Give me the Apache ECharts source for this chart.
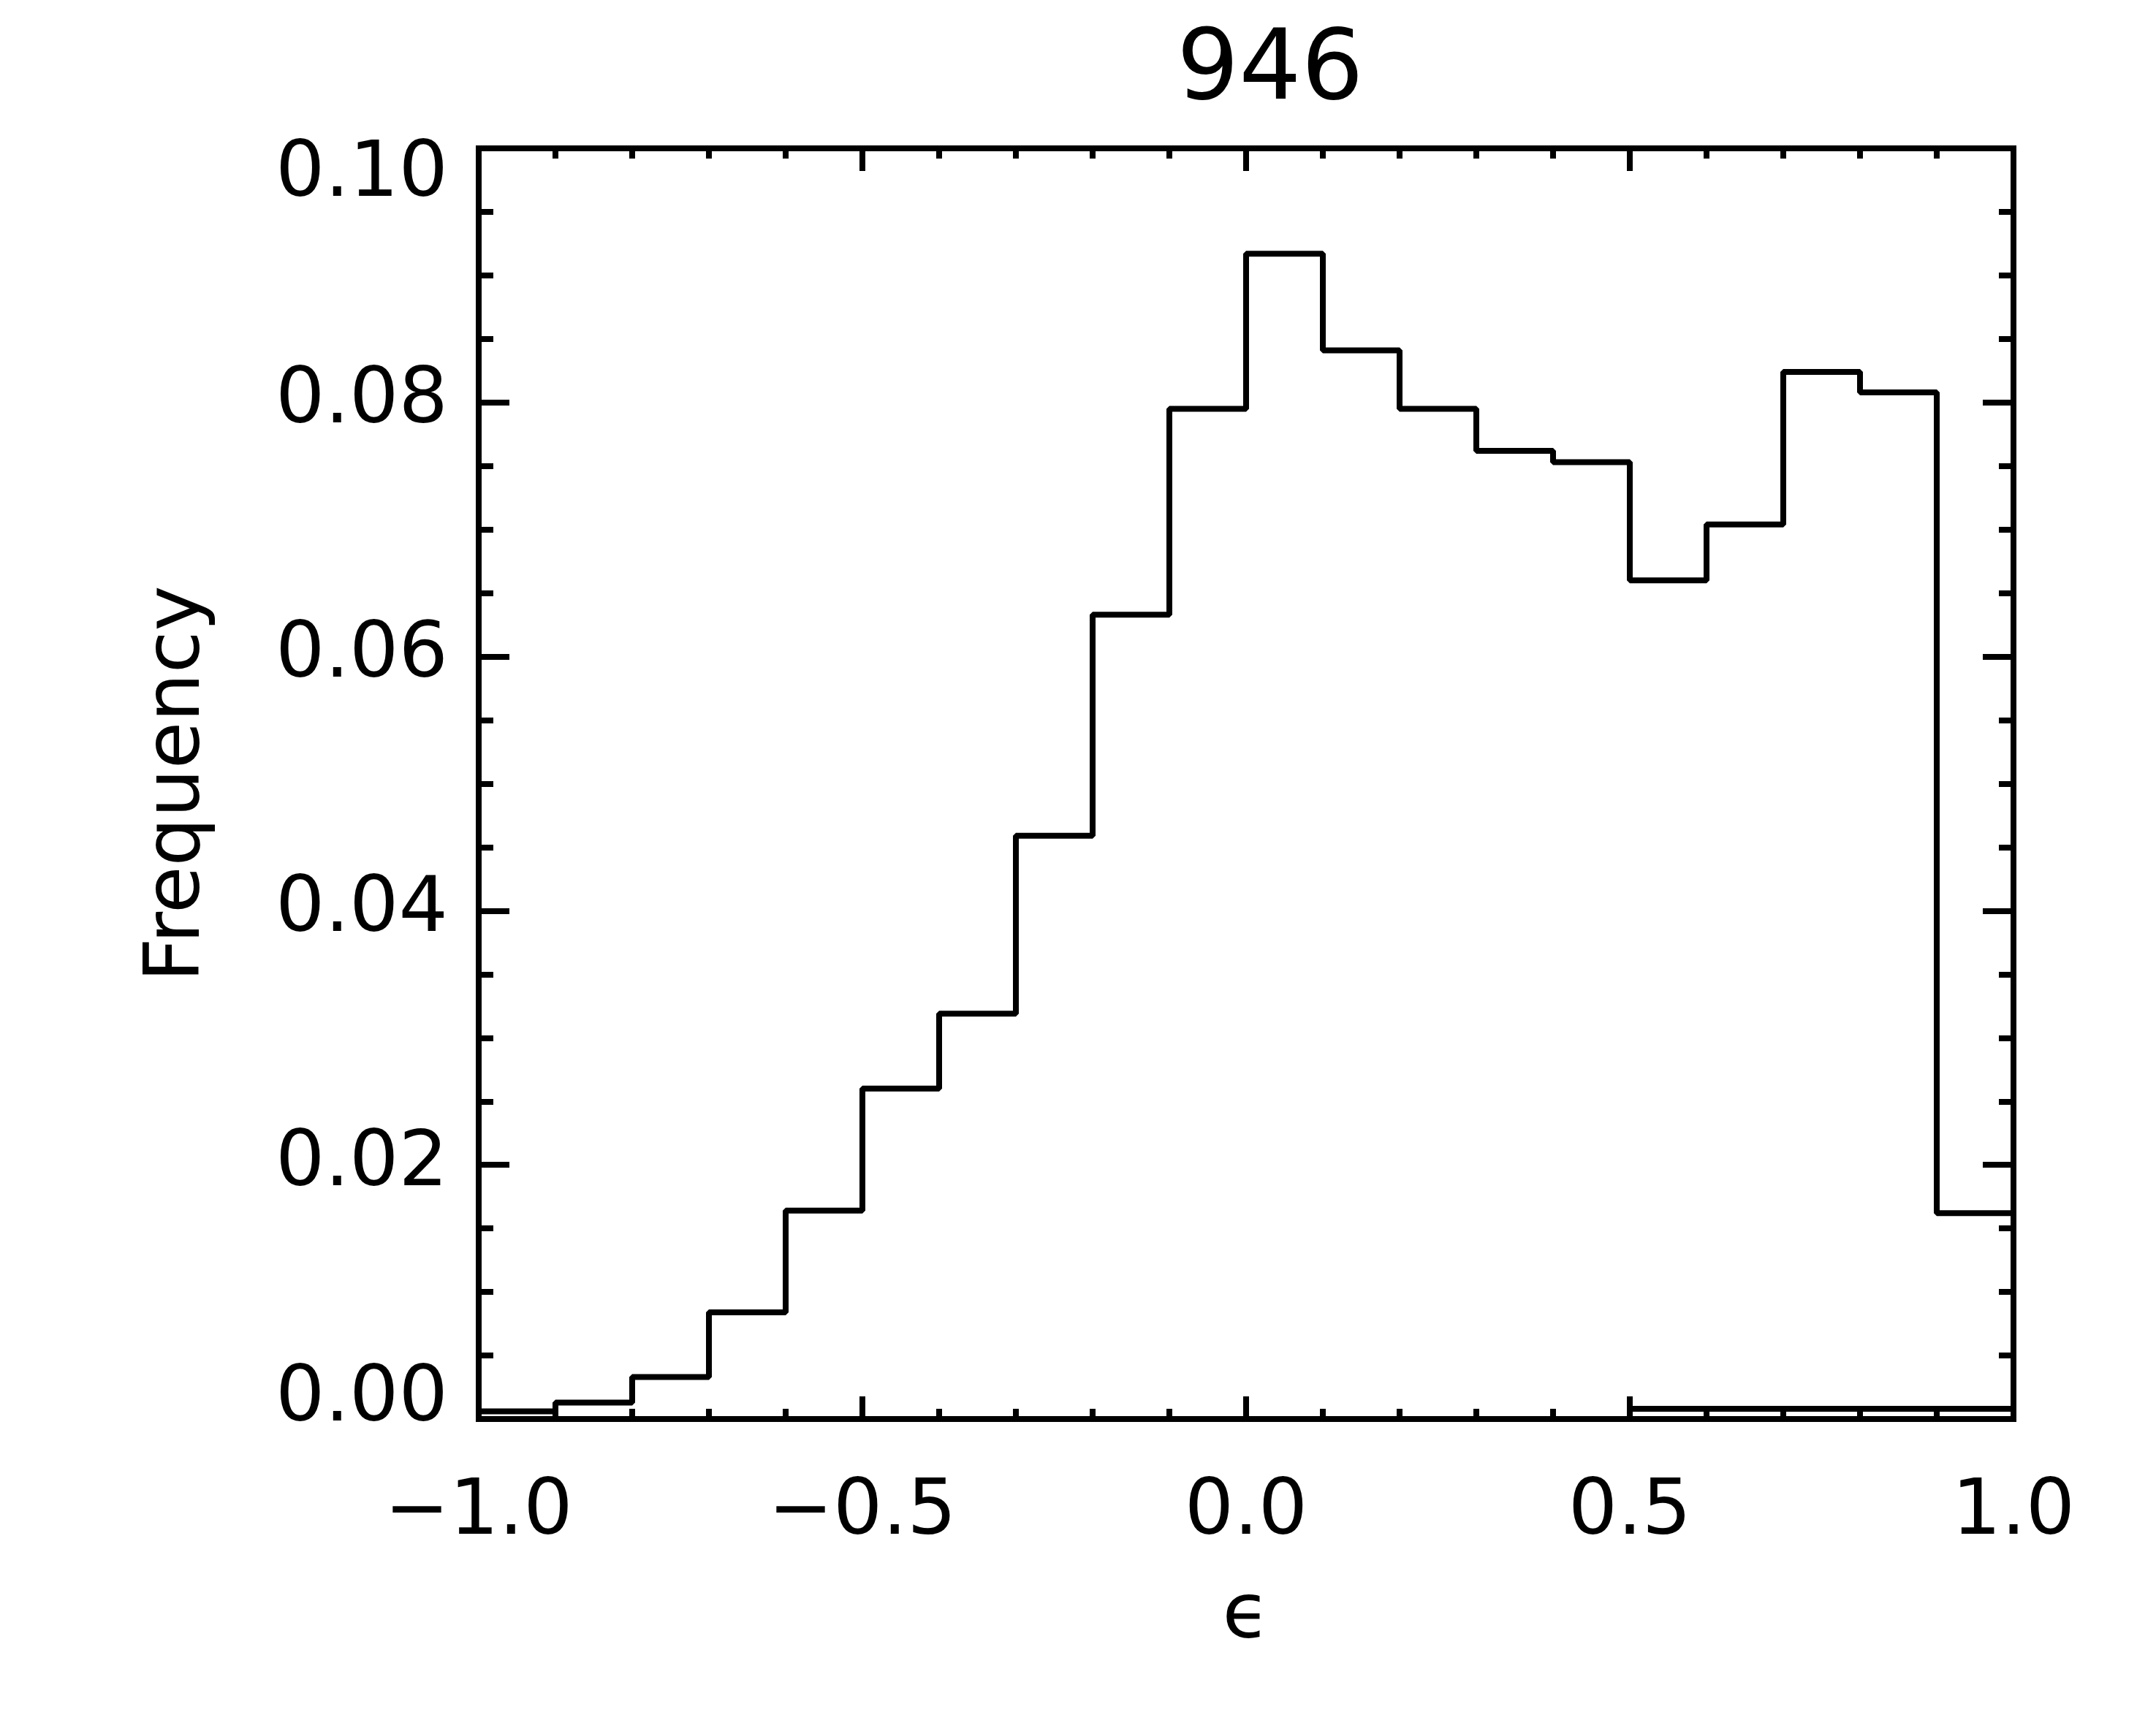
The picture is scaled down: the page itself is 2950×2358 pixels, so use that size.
<!DOCTYPE html>
<html>
<head>
<meta charset="utf-8">
<script src="https://cdn.jsdelivr.net/npm/echarts@6/dist/echarts.min.js"></script>
<style>
  html, body { margin: 0; padding: 0; background: #ffffff; }
  #chart { width: 2950px; height: 2358px; }
</style>
</head>
<body>
<div id="chart"></div>
<script>
// ---- data ----
const chartTitle = '946';
const xName = 'ϵ';
const yName = 'Frequency';
const binEdges = [-1.0, -0.9, -0.8, -0.7, -0.6, -0.5, -0.4, -0.3, -0.2, -0.1,
                  0.0, 0.1, 0.2, 0.3, 0.4, 0.5, 0.6, 0.7, 0.8, 0.9, 1.0];
const frequency = [0.0006, 0.0013, 0.0033, 0.0084, 0.0164, 0.0260, 0.0319, 0.0459, 0.0633, 0.0795,
                   0.0917, 0.0841, 0.0795, 0.0762, 0.0753, 0.0660, 0.0704, 0.0824, 0.0808, 0.0162];
const secondEdges = [0.5, 0.6, 0.7, 0.8, 0.9, 1.0];
const secondFrequency = [0.0008, 0.0008, 0.0008, 0.0008, 0.0008];
const xTicks = [-1.0, -0.5, 0.0, 0.5, 1.0];
const yTicks = [0.00, 0.02, 0.04, 0.06, 0.08, 0.10];

// step-line points: each bin's left edge with its value, plus the final right edge
function stepPoints(edges, vals) {
  const pts = vals.map((v, i) => [edges[i], v]);
  pts.push([edges[edges.length - 1], vals[vals.length - 1]]);
  return pts;
}

const FONT = 'DejaVu Sans';
const LW = 8;
const black = '#000000';

const chart = echarts.init(document.getElementById('chart'), null, { renderer: 'canvas' });

function xAxisCfg(pos, showLabel) {
  return {
    type: 'value', position: pos,
    min: xTicks[0], max: xTicks[xTicks.length - 1], interval: 0.5,
    axisLine: { show: true, onZero: false, lineStyle: { color: black, width: LW } },
    axisTick: { show: true, inside: true, length: 31, lineStyle: { color: black, width: LW } },
    minorTick: { show: true, splitNumber: 5, length: 14, lineStyle: { color: black, width: LW } },
    splitLine: { show: false },
    axisLabel: {
      show: showLabel, margin: 76, color: black, fontFamily: FONT, fontSize: 106,
      formatter: v => (v < 0 ? '\u2212' : '') + Math.abs(v).toFixed(1)
    },
    name: showLabel ? xName : '',
    nameLocation: 'middle', nameGap: 218,
    nameTextStyle: { color: black, fontFamily: FONT, fontSize: 106 }
  };
}

function yAxisCfg(pos, showLabel) {
  return {
    type: 'value', position: pos,
    min: yTicks[0], max: yTicks[yTicks.length - 1], interval: 0.02,
    axisLine: { show: true, onZero: false, lineStyle: { color: black, width: LW } },
    axisTick: { show: true, inside: true, length: 42, lineStyle: { color: black, width: LW } },
    minorTick: { show: true, splitNumber: 4, length: 20, lineStyle: { color: black, width: LW } },
    splitLine: { show: false },
    axisLabel: {
      show: showLabel, margin: 42, color: black, fontFamily: FONT, fontSize: 106,
      formatter: function (v) {
        const s = v.toFixed(2);
        if (Math.abs(v - yTicks[yTicks.length - 1]) < 1e-9) return '{top|' + s + '}';
        if (Math.abs(v - yTicks[0]) < 1e-9) return '{bot|' + s + '}';
        return s;
      },
      rich: {
        top: { fontFamily: FONT, fontSize: 106, color: black, padding: [74, 0, 0, 0] },
        bot: { fontFamily: FONT, fontSize: 106, color: black, padding: [0, 0, 52, 0] }
      }
    },
    name: showLabel ? yName : '',
    nameLocation: 'middle', nameGap: 358,
    nameTextStyle: { color: black, fontFamily: FONT, fontSize: 105 }
  };
}

const option = {
  backgroundColor: '#ffffff',
  animation: false,
  title: {
    text: chartTitle,
    left: 1605, top: 28,
    textStyle: { color: black, fontFamily: FONT, fontSize: 134, fontWeight: 'normal' }
  },
  grid: {
    left: 655, right: 195, top: 203, bottom: 416,
    show: true, borderColor: black, borderWidth: LW, backgroundColor: 'transparent'
  },
  xAxis: [xAxisCfg('bottom', true), xAxisCfg('top', false)],
  yAxis: [yAxisCfg('left', true), yAxisCfg('right', false)],
  series: [
    {
      type: 'line', xAxisIndex: 0, yAxisIndex: 0,
      step: 'end', showSymbol: false, symbol: 'none',
      lineStyle: { color: black, width: LW },
      data: stepPoints(binEdges, frequency)
    },
    {
      type: 'line', xAxisIndex: 0, yAxisIndex: 0,
      step: 'end', showSymbol: false, symbol: 'none',
      lineStyle: { color: black, width: LW },
      data: stepPoints(secondEdges, secondFrequency)
    }
  ]
};
chart.setOption(option);
</script>
</body>
</html>
